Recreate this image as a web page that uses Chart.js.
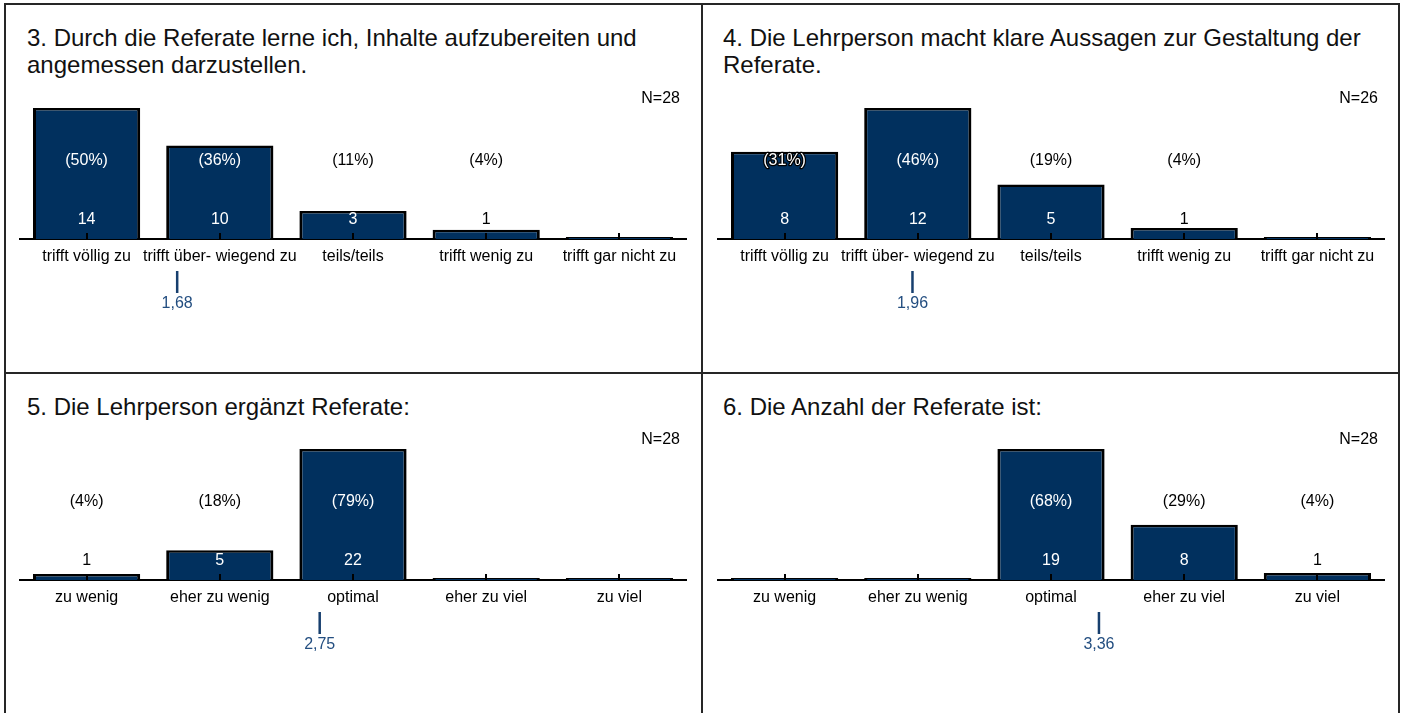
<!DOCTYPE html>
<html><head><meta charset="utf-8">
<script src="https://cdn.jsdelivr.net/npm/chart.js@4.4.1/dist/chart.umd.min.js"></script>
<style>
html,body{margin:0;padding:0;background:#fff;}
body{width:1401px;height:713px;overflow:hidden;position:relative;font-family:'Liberation Sans',Arial,sans-serif;}
.line{position:absolute;background:#262626;}
.title{position:absolute;font-size:24px;line-height:27px;color:#111;white-space:nowrap;}
canvas{position:absolute;}
</style></head><body>
<div class="line" style="left:4px;top:3px;width:1396px;height:1.5px;"></div>
<div class="line" style="left:4px;top:3px;width:2px;height:710px;"></div>
<div class="line" style="left:701px;top:3px;width:2px;height:710px;"></div>
<div class="line" style="left:1398px;top:3px;width:2px;height:710px;"></div>
<div class="line" style="left:4px;top:372px;width:1396px;height:2px;"></div>

<div class="title" style="left:27px;top:24px;">3. Durch die Referate lerne ich, Inhalte aufzubereiten und<br>angemessen darzustellen.</div>
<div class="title" style="left:723px;top:24px;">4. Die Lehrperson macht klare Aussagen zur Gestaltung der<br>Referate.</div>
<div class="title" style="left:27px;top:393px;">5. Die Lehrperson ergänzt Referate:</div>
<div class="title" style="left:723px;top:393px;">6. Die Anzahl der Referate ist:</div>

<canvas id="c3" width="698" height="369" style="left:4px;top:3px;"></canvas>
<canvas id="c4" width="698" height="369" style="left:702px;top:3px;"></canvas>
<canvas id="c5" width="698" height="340" style="left:4px;top:373px;"></canvas>
<canvas id="c6" width="698" height="340" style="left:702px;top:373px;"></canvas>

<script>
// ---- data ----
const categoriesAgree = ['trifft völlig zu', 'trifft über- wiegend zu', 'teils/teils', 'trifft wenig zu', 'trifft gar nicht zu'];
const categoriesAmount = ['zu wenig', 'eher zu wenig', 'optimal', 'eher zu viel', 'zu viel'];

const counts3 = [14, 10, 3, 1, 0];
const pct3 = [50, 36, 11, 4, 0];
const mean3 = 1.68;
const n3 = 28;

const counts4 = [8, 12, 5, 1, 0];
const pct4 = [31, 46, 19, 4, 0];
const mean4 = 1.96;
const n4 = 26;

const counts5 = [1, 5, 22, 0, 0];
const pct5 = [4, 18, 79, 0, 0];
const mean5 = 2.75;
const n5 = 28;

const counts6 = [0, 0, 19, 8, 1];
const pct6 = [0, 0, 68, 29, 4];
const mean6 = 3.36;
const n6 = 28;

// ---- styling ----
const FONT = "'Liberation Sans', Arial, sans-serif";
const BAR = '#01305e';
const MEAN_LINE = '#173f6e';
const MEAN_TEXT = '#234e80';
Chart.defaults.font.family = FONT;

const overlay = {
  id: 'overlay',
  afterDatasetsDraw(chart, args, opts) {
    const { ctx, chartArea: a, scales: { x, y } } = chart;
    const p = opts.panel;
    ctx.save();
    // small upward tick marks at category centres
    ctx.strokeStyle = '#000';
    ctx.lineWidth = 2;
    p.counts.forEach((c, i) => {
      const px = Math.round(x.getPixelForValue(i));
      ctx.beginPath();
      ctx.moveTo(px, a.bottom);
      ctx.lineTo(px, a.bottom - 6);
      ctx.stroke();
    });
    ctx.font = '16px ' + FONT;
    ctx.textAlign = 'center';
    ctx.textBaseline = 'middle';
    p.counts.forEach((c, i) => {
      if (!c) return;
      const px = x.getPixelForValue(i);
      const top = y.getPixelForValue(c);
      const py = a.bottom - 78;
      const txt = '(' + p.pct[i] + '%)';
      if (top < py) {
        if (top > py - 11) {
          ctx.lineWidth = 2.5;
          ctx.strokeStyle = '#000';
          ctx.lineJoin = 'round';
          ctx.strokeText(txt, px, py);
        }
        ctx.fillStyle = '#fff';
      } else {
        ctx.fillStyle = '#000';
      }
      ctx.fillText(txt, px, py);
      const cy = a.bottom - 19;
      ctx.fillStyle = top < cy ? '#fff' : '#000';
      ctx.fillText(String(c), px, cy);
    });
    // N
    ctx.textAlign = 'right';
    ctx.fillStyle = '#000';
    ctx.fillText('N=' + p.n, a.right - 6, a.top - 9);
    // mean marker
    const mx = x.getPixelForValue(p.mean - 1);
    ctx.strokeStyle = MEAN_LINE;
    ctx.lineWidth = 2.5;
    ctx.beginPath();
    ctx.moveTo(mx, a.bottom + 32);
    ctx.lineTo(mx, a.bottom + 54);
    ctx.stroke();
    ctx.fillStyle = MEAN_TEXT;
    ctx.textAlign = 'center';
    ctx.fillText(p.mean.toFixed(2).replace('.', ','), mx, a.bottom + 65);
    ctx.restore();
  }
};

function makeChart(id, labels, counts, pct, mean, n, padTop, padBottom) {
  return new Chart(document.getElementById(id), {
    type: 'bar',
    data: {
      labels: labels,
      datasets: [{
        data: counts,
        backgroundColor: BAR,
        borderColor: '#000',
        borderWidth: { top: 2.5, left: 3, right: 3, bottom: 0 },
        borderSkipped: false,
        barPercentage: 0.805,
        categoryPercentage: 1,
        minBarLength: 2,
        clip: false
      }]
    },
    options: {
      responsive: false,
      animation: false,
      devicePixelRatio: 1,
      layout: { padding: { left: 16, right: 16, top: padTop, bottom: padBottom } },
      plugins: {
        legend: { display: false },
        title: { display: false },
        tooltip: { enabled: false },
        overlay: { panel: { counts, pct, mean, n } }
      },
      scales: {
        x: {
          grid: { display: false, drawTicks: false },
          border: { display: true, color: '#000', width: 2 },
          ticks: { color: '#000', font: { size: 16, family: FONT }, padding: 8, maxRotation: 0, autoSkip: false },
          afterFit: s => { s.height = 40; }
        },
        y: {
          display: false,
          min: 0,
          max: Math.max(...counts)
        }
      }
    },
    plugins: [overlay]
  });
}

makeChart('c3', categoriesAgree, counts3, pct3, mean3, n3, 105, 369 - 236 - 40);
makeChart('c4', categoriesAgree, counts4, pct4, mean4, n4, 105, 369 - 236 - 40);
makeChart('c5', categoriesAmount, counts5, pct5, mean5, n5, 76, 340 - 207 - 40);
makeChart('c6', categoriesAmount, counts6, pct6, mean6, n6, 76, 340 - 207 - 40);
</script>
</body></html>
